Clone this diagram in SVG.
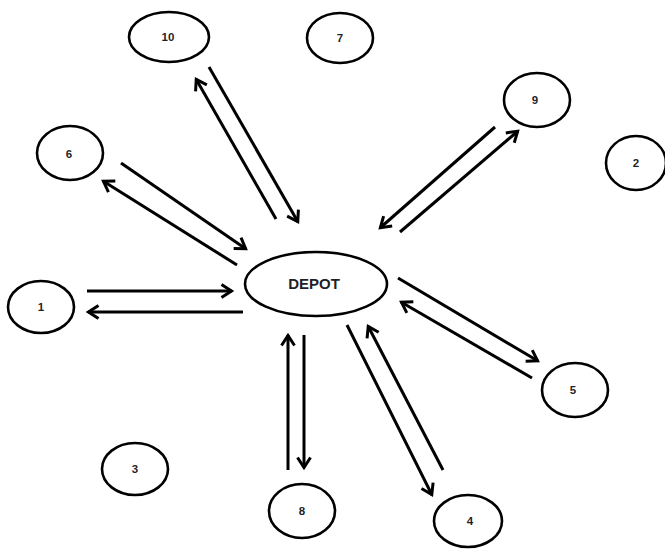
<svg xmlns="http://www.w3.org/2000/svg" width="665" height="551" viewBox="0 0 665 551">
  <style>
    .node ellipse { fill: #ffffff; stroke: #000000; stroke-width: 2.6; }
    .node text { font-family: "Liberation Sans", Arial, sans-serif; font-size: 11.5px; font-weight: bold; fill: #1f1f2a; text-anchor: middle; }
    #depot text { font-size: 15px; }
    .link { stroke: #000000; stroke-width: 3; fill: none; marker-end: url(#arrow); }
  </style>
  <defs>
    <marker id="arrow" viewBox="-13 -9 16 18" markerWidth="16" markerHeight="18" refX="0.5" refY="0" orient="auto" markerUnits="userSpaceOnUse">
      <path d="M-10,-6.5 L0,0 L-10,6.5" fill="none" stroke="#000000" stroke-width="3"/>
    </marker>
  </defs>
  <rect width="665" height="551" fill="#ffffff"/>

  <!-- connectors: each customer has an outgoing and a returning trip -->
  <g id="connectors">
    <!-- 1 -->
    <line class="link" x1="87" y1="291" x2="232" y2="291"/>
    <line class="link" x1="243" y1="312" x2="88" y2="312"/>
    <!-- 6 -->
    <line class="link" x1="121" y1="163" x2="246" y2="249"/>
    <line class="link" x1="237" y1="265" x2="103" y2="181"/>
    <!-- 10 -->
    <line class="link" x1="209" y1="67" x2="298" y2="222"/>
    <line class="link" x1="276" y1="219" x2="196" y2="79"/>
    <!-- 9 -->
    <line class="link" x1="495" y1="127" x2="380" y2="228"/>
    <line class="link" x1="400" y1="232" x2="518" y2="131"/>
    <!-- 5 -->
    <line class="link" x1="398" y1="278" x2="538" y2="361"/>
    <line class="link" x1="532" y1="378" x2="401" y2="302"/>
    <!-- 8 -->
    <line class="link" x1="288" y1="470" x2="288" y2="335"/>
    <line class="link" x1="304" y1="335" x2="304" y2="468"/>
    <!-- 4 -->
    <line class="link" x1="347" y1="325" x2="432" y2="495"/>
    <line class="link" x1="443" y1="470" x2="368" y2="326"/>
  </g>

  <g id="depot" class="node">
    <ellipse cx="316" cy="284" rx="71" ry="32"/>
    <text x="314" y="289">DEPOT</text>
  </g>
  <g id="n1" class="node">
    <ellipse cx="41" cy="307" rx="33" ry="26"/>
    <text x="41" y="311">1</text>
  </g>
  <g id="n2" class="node">
    <ellipse cx="636" cy="163" rx="30" ry="27"/>
    <text x="636" y="167">2</text>
  </g>
  <g id="n3" class="node">
    <ellipse cx="135" cy="469" rx="33" ry="26"/>
    <text x="135" y="473">3</text>
  </g>
  <g id="n4" class="node">
    <ellipse cx="468" cy="521" rx="34" ry="26"/>
    <text x="470" y="525">4</text>
  </g>
  <g id="n5" class="node">
    <ellipse cx="575" cy="390" rx="33" ry="27"/>
    <text x="573" y="394">5</text>
  </g>
  <g id="n6" class="node">
    <ellipse cx="70" cy="153" rx="33" ry="27"/>
    <text x="69" y="158">6</text>
  </g>
  <g id="n7" class="node">
    <ellipse cx="340" cy="38" rx="33" ry="25"/>
    <text x="340" y="42">7</text>
  </g>
  <g id="n8" class="node">
    <ellipse cx="302" cy="511" rx="33" ry="27"/>
    <text x="302" y="515">8</text>
  </g>
  <g id="n9" class="node">
    <ellipse cx="537" cy="100" rx="33" ry="27"/>
    <text x="535" y="104">9</text>
  </g>
  <g id="n10" class="node">
    <ellipse cx="169" cy="37" rx="40" ry="25"/>
    <text x="168" y="41">10</text>
  </g>
</svg>
